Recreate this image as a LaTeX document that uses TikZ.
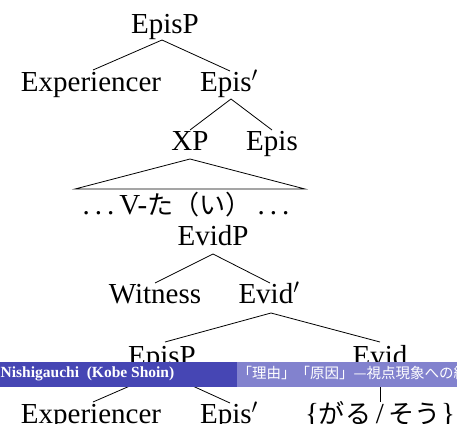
\documentclass[tikz,border=0pt]{standalone}
\usepackage{fontspec}
\setmainfont{Liberation Serif}
\newfontfamily\jp[Scale=0.9]{Noto Sans CJK JP}
\newfontfamily\jpbar{Noto Sans CJK JP}
\usetikzlibrary{calc}
\definecolor{bardark}{HTML}{4646B4}
\definecolor{barlight}{HTML}{8282CE}
\newcommand{\mydots}{.\kern5pt.\kern5pt.}
\tikzset{
  lbl/.style={anchor=base, inner sep=0pt, font=\fontsize{29}{34}\selectfont},
  edge/.style={line width=0.8pt, line join=miter},
  bartext/.style={anchor=base west, inner sep=0pt, text=white}
}
\begin{document}
\begin{tikzpicture}[x=1pt,y=1pt]
\clip (0,0) rectangle (457,-423);
\fill[white] (0,0) rectangle (457,-423);
% nodes
\node[lbl] (EpisP) at (165,-33) {EpisP};
\node[lbl] (Exp) at (91,-91) {Experiencer};
\node[lbl] (EpisBar) at (229,-91) {Epis$'$};
\node[lbl] (XP) at (190,-150) {XP};
\node[lbl] (Epis) at (272,-150) {Epis};
\node[lbl] (Vtai) at (186,-214) {\mydots\kern5pt V-{\jp た（い）}\kern6pt\mydots};
\node[lbl] (EvidP) at (213,-245) {EvidP};
\node[lbl] (Witness) at (155,-303) {Witness};
\node[lbl] (EvidBar) at (269,-303) {Evid$'$};
\node[lbl] (EpisPb) at (162,-365) {EpisP};
\node[lbl] (Evid) at (380,-365) {Evid};
\node[lbl] (Expb) at (91,-423) {Experiencer};
\node[lbl] (EpisBarb) at (229,-423) {Epis$'$};
\node[lbl] (garu) at (380,-423) {\{{\jp がる}\,/\,{\jp そう}\}};
% edges
\draw[edge] ($(EpisP.base)+(-3,-7)$) -- ($(Exp.base)+(2,21)$);
\draw[edge] ($(EpisP.base)+(-3,-7)$) -- ($(EpisBar.base)+(1,20)$);
\draw[edge] ($(EpisBar.base)+(2,-8)$) -- ($(XP.base)+(0,20)$);
\draw[edge] ($(EpisBar.base)+(2,-8)$) -- ($(Epis.base)+(0,20)$);
\draw[edge] ($(XP.base)+(0,-9)$) -- ($(Vtai.base)+(-111,25)$) -- ($(Vtai.base)+(119,25)$) -- cycle;
\draw[edge] ($(EvidP.base)+(0,-9)$) -- ($(Witness.base)+(0,20)$);
\draw[edge] ($(EvidP.base)+(0,-9)$) -- ($(EvidBar.base)+(1,20)$);
\draw[edge] ($(EvidBar.base)+(2,-10)$) -- ($(EpisPb.base)+(3,23)$);
\draw[edge] ($(EvidBar.base)+(2,-10)$) -- ($(Evid.base)+(0,23)$);
\draw[edge] ($(EpisPb.base)+(0,-7)$) -- ($(Expb.base)+(2,21)$);
\draw[edge] ($(EpisPb.base)+(0,-7)$) -- ($(EpisBarb.base)+(1,20)$);
\draw[edge] ($(Evid.base)+(0,-7)$) -- ($(garu.base)+(0,21)$);
% footline bar
\fill[bardark] (0,-362) rectangle (237,-387);
\fill[barlight] (237,-362) rectangle (457,-387);
\node[bartext, font=\fontsize{15.5}{18}\selectfont\bfseries] (author) at (0.5,-377.7) {Nishigauchi\ \ (Kobe Shoin)};
\node[bartext, font=\fontsize{14.5}{18}\jpbar] (title) at (237.5,-378) {「理由」「原因」—視点現象への統語論的アプローチ};
\end{tikzpicture}
\end{document}
